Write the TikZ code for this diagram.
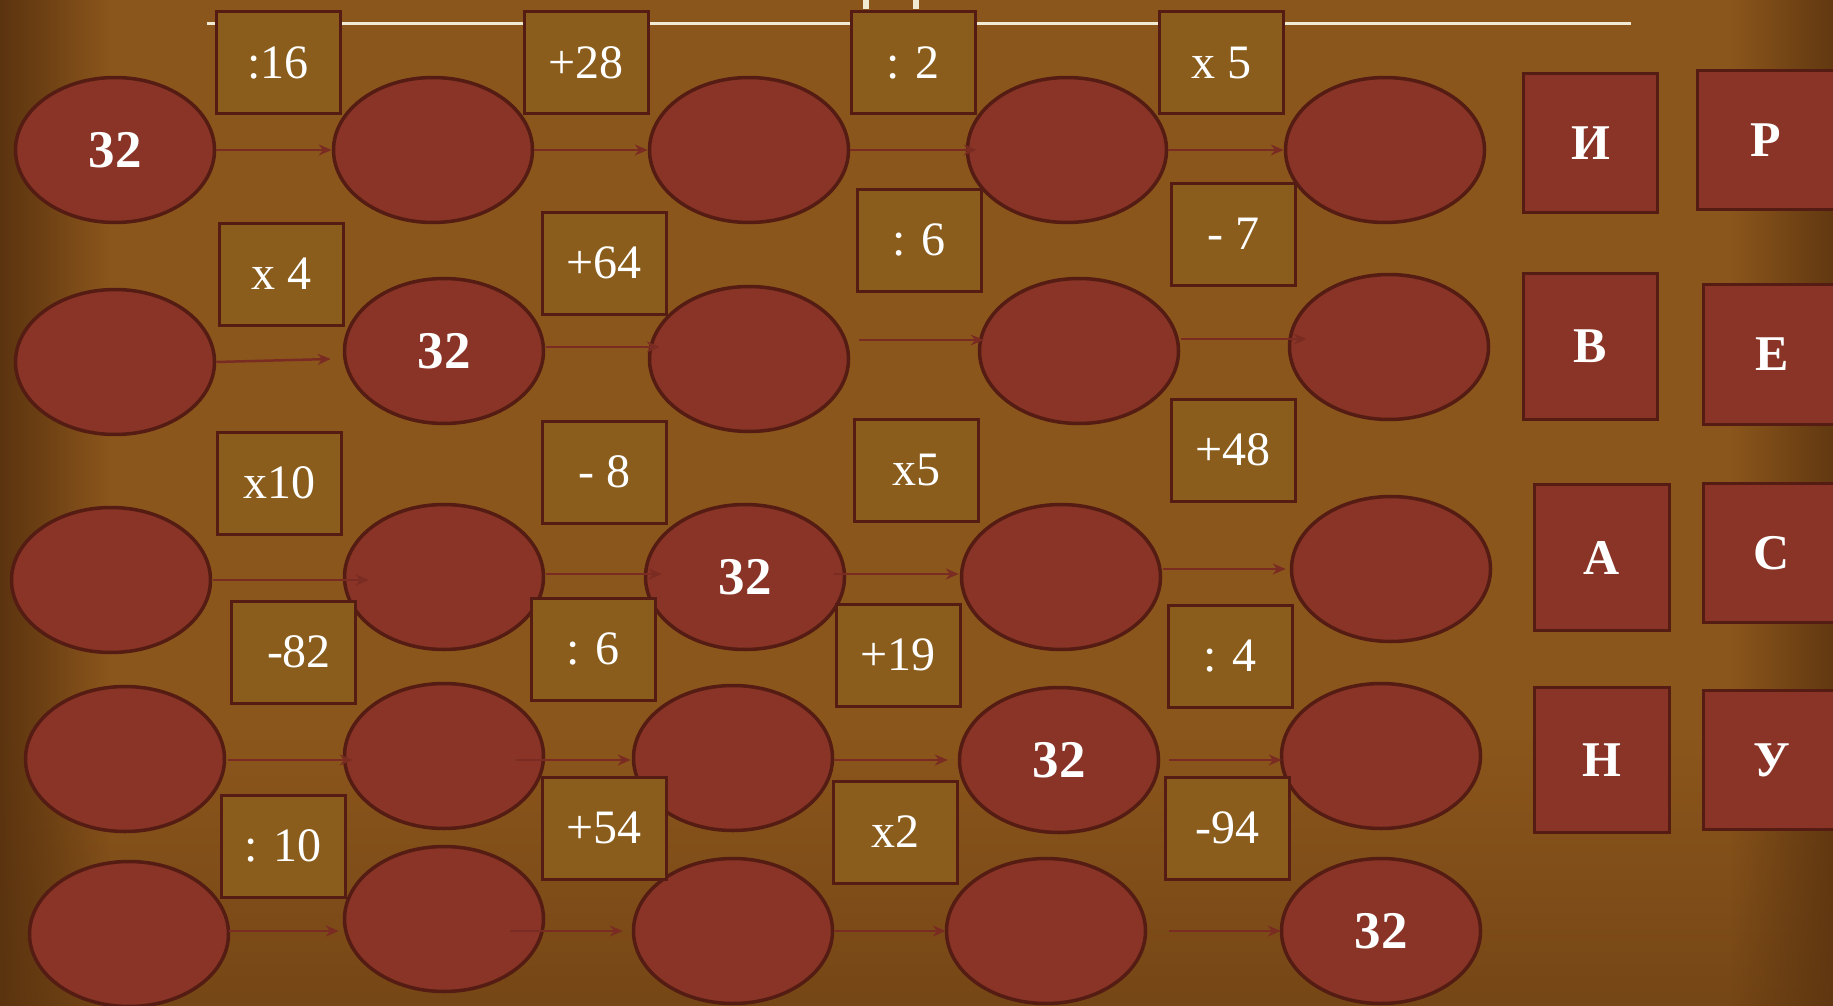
\documentclass[tikz,border=0pt]{standalone}
\usepackage{fontspec}
\setmainfont{Liberation Serif}
\usetikzlibrary{calc,arrows.meta,shapes.geometric,fadings}
\definecolor{bgmid}{HTML}{8B561C}
\definecolor{bgdark}{HTML}{5A330F}
\definecolor{ellfill}{HTML}{893427}
\definecolor{edgecol}{HTML}{541C12}
\definecolor{boxfill}{HTML}{8A5D1D}
\definecolor{arrcol}{HTML}{7B2C22}
\definecolor{linecol}{HTML}{F2EBD3}
\begin{document}
\begin{tikzpicture}[x=1pt,y=-1pt,
  oval/.style={ellipse, draw=edgecol, line width=3.5pt, fill=ellfill, minimum width=199pt, minimum height=145pt, inner sep=0pt, text=white, font=\fontsize{53}{55}\selectfont\bfseries},
  opbox/.style={rectangle, draw=edgecol, line width=3pt, fill=boxfill, minimum width=124pt, minimum height=102pt, inner sep=0pt, text=white, font=\fontsize{48}{50}\selectfont},
  letterbox/.style={rectangle, draw=edgecol, line width=3pt, fill=ellfill, inner sep=0pt, text=white, font=\fontsize{50}{52}\selectfont\bfseries},
  arr/.style={draw=arrcol, line width=2.5pt, -{Stealth[length=13pt,width=11pt]}}]
\useasboundingbox (0,0) rectangle (1833,1006);
\begin{scope}
\clip (0,0) rectangle (1833,1006);
% background
\fill[bgmid] (-10,-10) rectangle (1843,1016);
\fill[bgdark, opacity=0.45, path fading=north] (-10,740) rectangle (1843,1016);
\fill[bgdark, path fading=east] (-2,-30) rectangle (110,1036);
\fill[bgdark, opacity=0.85, path fading=west] (1730,-30) rectangle (1835,1036);
\end{scope}
% top line
\draw[linecol, line width=3pt] (207,24) -- (1631,24);
\draw[linecol, line width=6pt] (866,0) -- (866,9);
\draw[linecol, line width=6pt] (916,0) -- (916,9);
% ellipses
\node[oval] (r1c1) at (115,150) {32};
\node[oval] (r1c2) at (433,150) {};
\node[oval] (r1c3) at (749,150) {};
\node[oval] (r1c4) at (1067,150) {};
\node[oval] (r1c5) at (1385,150) {};
\node[oval] (r2c1) at (115,362) {};
\node[oval] (r2c2) at (444,351) {32};
\node[oval] (r2c3) at (749,359) {};
\node[oval] (r2c4) at (1079,351) {};
\node[oval] (r2c5) at (1389,347) {};
\node[oval] (r3c1) at (111,580) {};
\node[oval] (r3c2) at (444,577) {};
\node[oval] (r3c3) at (745,577) {32};
\node[oval] (r3c4) at (1061,577) {};
\node[oval] (r3c5) at (1391,569) {};
\node[oval] (r4c1) at (125,759) {};
\node[oval] (r4c2) at (444,756) {};
\node[oval] (r4c3) at (733,758) {};
\node[oval] (r4c4) at (1059,760) {32};
\node[oval] (r4c5) at (1381,756) {};
\node[oval] (r5c1) at (129,934) {};
\node[oval] (r5c2) at (444,919) {};
\node[oval] (r5c3) at (733,931) {};
\node[oval] (r5c4) at (1046,931) {};
\node[oval] (r5c5) at (1381,931) {32};
% operation boxes
\node[opbox] (b1) at (278,63) {:16};
\node[opbox] (b2) at (586,63) {+28};
\node[opbox] (b3) at (913,63) {: 2};
\node[opbox] (b4) at (1221,63) {x 5};
\node[opbox] (b5) at (281,274) {x 4};
\node[opbox] (b6) at (604,263) {+64};
\node[opbox] (b7) at (919,240) {: 6};
\node[opbox] (b8) at (1233,234) {- 7};
\node[opbox] (b9) at (279,483) {x10};
\node[opbox] (b10) at (604,472) {- 8};
\node[opbox] (b11) at (916,470) {x5};
\node[opbox] (b12) at (1233,450) {+48};
\node[opbox] (b13) at (293,652) {\hspace{12pt}-82};
\node[opbox] (b14) at (593,649) {: 6};
\node[opbox] (b15) at (898,655) {+19};
\node[opbox] (b16) at (1230,656) {: 4};
\node[opbox] (b17) at (283,846) {: 10};
\node[opbox] (b18) at (604,828) {+54};
\node[opbox] (b19) at (895,832) {x2};
\node[opbox] (b20) at (1227,828) {-94};
% letter squares
\node[letterbox, minimum width=134pt, minimum height=139pt] (lI) at (1590.5,143) {И};
\node[letterbox, minimum width=137pt, minimum height=139pt] (lR) at (1766,140) {Р};
\node[letterbox, minimum width=134pt, minimum height=146pt] (lV) at (1590.5,346.5) {В};
\node[letterbox, minimum width=137pt, minimum height=140pt] (lE) at (1772,354.5) {Е};
\node[letterbox, minimum width=135pt, minimum height=146pt] (lA) at (1602,557.5) {А};
\node[letterbox, minimum width=137pt, minimum height=139pt] (lS) at (1772,553) {С};
\node[letterbox, minimum width=135pt, minimum height=145pt] (lN) at (1602,760) {Н};
\node[letterbox, minimum width=137pt, minimum height=139pt] (lU) at (1772,760) {У};
% arrows
\draw[arr] (r1c1.east) -- (r1c2.west);
\draw[arr] (r1c2.east) -- (r1c3.west);
\draw[arr] (r1c3.east) -- ($(r1c4.west)+(11,0)$);
\draw[arr] (r1c4.east) -- (r1c5.west);
\draw[arr] (r2c1.east) -- ($(r2c2.west)+(-12,8)$);
\draw[arr] ($(r2c2.east)+(1,-4)$) -- ($(r2c3.west)+(12,-12)$);
\draw[arr] ($(r2c3.east)+(9,-19)$) -- ($(r2c4.west)+(6,-11)$);
\draw[arr] ($(r2c4.east)+(1,-12)$) -- ($(r2c5.west)+(19,-8)$);
\draw[arr] ($(r3c1.east)+(1,0)$) -- ($(r3c2.west)+(26,3)$);
\draw[arr] ($(r3c2.east)+(1,-3)$) -- ($(r3c3.west)+(18,-3)$);
\draw[arr] ($(r3c3.east)+(-12,-3)$) -- ($(r3c4.west)+(-1,-3)$);
\draw[arr] ($(r3c4.east)+(1,-8)$) -- ($(r3c5.west)+(-4,0)$);
\draw[arr] ($(r4c1.east)+(2,1)$) -- ($(r4c2.west)+(10,4)$);
\draw[arr] ($(r4c2.east)+(-29,4)$) -- ($(r4c3.west)+(-1,2)$);
\draw[arr] ($(r4c3.east)+(0,2)$) -- ($(r4c4.west)+(-10,0)$);
\draw[arr] ($(r4c4.east)+(9,0)$) -- ($(r4c5.west)+(2,4)$);
\draw[arr] ($(r5c1.east)+(-1,-3)$) -- ($(r5c2.west)+(-4,12)$);
\draw[arr] ($(r5c2.east)+(-35,12)$) -- ($(r5c3.west)+(-9,0)$);
\draw[arr] (r5c3.east) -- ($(r5c4.west)+(1,0)$);
\draw[arr] ($(r5c4.east)+(22,0)$) -- ($(r5c5.west)+(1,0)$);
\end{tikzpicture}
\end{document}
